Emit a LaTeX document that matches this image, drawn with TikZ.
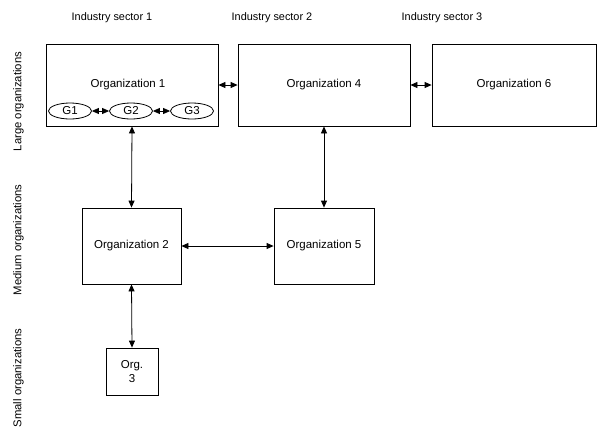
\documentclass[tikz,border=0pt]{standalone}
\usepackage{fontspec}
\setmainfont{Liberation Sans}
\usetikzlibrary{arrows.meta,shapes.geometric}
\tikzset{
  org/.style={draw, line width=0.8pt, inner sep=0pt, font=\fontsize{11.5}{13.5}\selectfont, align=center},
  grp/.style={draw, ellipse, line width=0.8pt, inner sep=0pt, minimum width=43pt, minimum height=16pt, font=\fontsize{11.5}{13.5}\selectfont},
  lbl/.style={font=\fontsize{10.9}{13}\selectfont, inner sep=0pt},
  vlbl/.style={font=\fontsize{11.3}{13}\selectfont, inner sep=0pt, rotate=90},
  link/.style={line width=0.8pt, {Triangle[length=7pt,width=6pt]}-{Triangle[length=7pt,width=6pt]}},
}
\begin{document}
\begin{tikzpicture}[x=1pt,y=-1pt]
\useasboundingbox (0,0) rectangle (597,432);
% sector labels
\node[lbl] (s1) at (112,18) {Industry sector 1};
\node[lbl] (s2) at (272,18) {Industry sector 2};
\node[lbl] (s3) at (442,18) {Industry sector 3};
% size labels
\node[vlbl] (l1) at (18.5,101.5) {Large organizations};
\node[vlbl] (l2) at (18.5,240) {Medium organizations};
\node[vlbl] (l3) at (18.5,378) {Small organizations};
% organizations
\node[org, minimum width=172pt, minimum height=82pt] (o1) at (132,85) {};
\node[org, draw=none] (o1t) at (128,85) {Organization 1};
\node[org, minimum width=172pt, minimum height=82pt] (o4) at (324,85) {Organization 4};
\node[org, minimum width=164pt, minimum height=82pt] (o6) at (514,85) {Organization 6};
\node[org, minimum width=99pt, minimum height=76pt] (o2) at (131.5,246) {Organization 2};
\node[org, minimum width=100pt, minimum height=76pt] (o5) at (324,246) {Organization 5};
\node[org, minimum width=52pt, minimum height=47pt] (o3) at (132,371.5) {Org.\\3};
% groups
\node[grp] (g1) at (70,111) {G1};
\node[grp] (g2) at (131,111) {G2};
\node[grp] (g3) at (192,111) {G3};
% connectors
\draw[link] (g1) -- (g2);
\draw[link] (g2) -- (g3);
\draw[link] (o1.east) -- (o4.west);
\draw[link] (o4.east) -- (o6.west);
\draw[link] (o1.south) -- (o2.north);
\draw[link] (o4.south) -- (o5.north);
\draw[link] (o2.east) -- (o5.west);
\draw[link] (o2.south) -- (o3.north);
\end{tikzpicture}
\end{document}
